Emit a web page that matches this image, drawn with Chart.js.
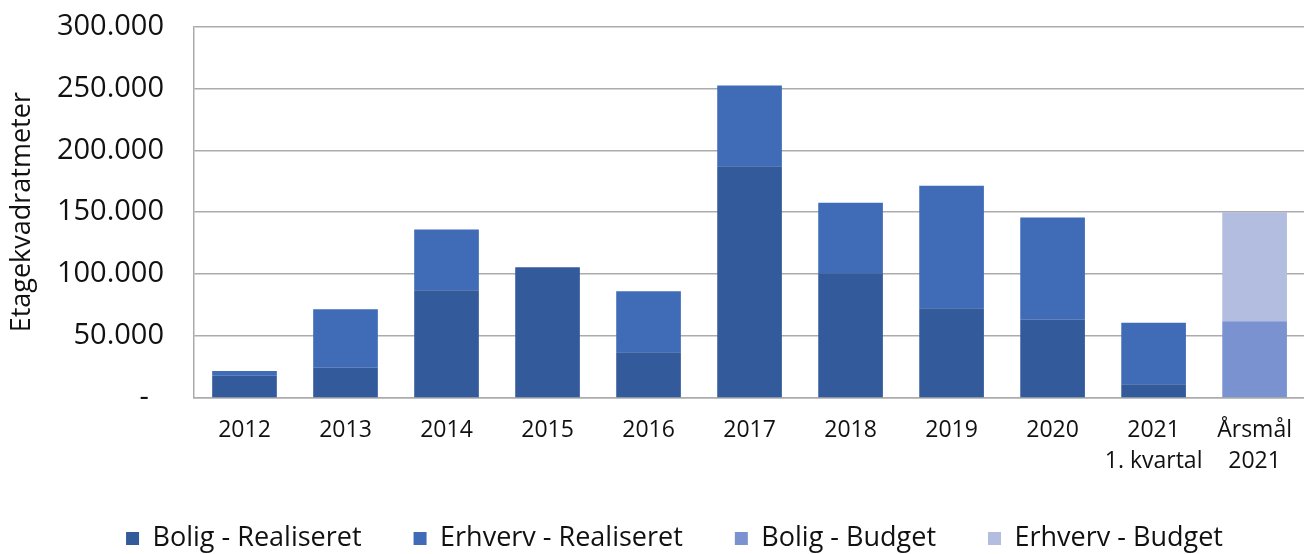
<!DOCTYPE html>
<html>
<head>
<meta charset="utf-8">
<script src="https://cdn.jsdelivr.net/npm/chart.js@4.4.1/dist/chart.umd.min.js"></script>
<style>
    html, body { margin: 0; padding: 0; background: #fff; overflow: hidden; }
    #wrap { width: 1309px; height: 583px; margin-top: -21px; }
</style>
</head>
<body>
<div id="wrap"><canvas id="chart"></canvas></div>
<script>
// categories and values (etagekvadratmeter)
const labels = ["2012", "2013", "2014", "2015", "2016", "2017", "2018", "2019", "2020", ["2021", "1. kvartal"], ["Årsmål", "2021"]];
const boligRealiseret = [18000, 24400, 87000, 105500, 37000, 187000, 100700, 72500, 63100, 11000, null];
const erhvervRealiseret = [3700, 47300, 49000, 0, 49200, 65200, 57000, 98800, 82700, 49700, null];
const boligBudget = [null, null, null, null, null, null, null, null, null, null, 62000];
const erhvervBudget = [null, null, null, null, null, null, null, null, null, null, 88000];
const yTicks = [0, 50000, 100000, 150000, 200000, 250000, 300000];

const font = "'Open Sans', sans-serif";

function fmt(v) {
    if (v === 0) return "-  ";
    return String(v).replace(/\B(?=(\d{3})+(?!\d))/g, ".");
}

const ds = (label, data, color) => ({
    label: label,
    data: data,
    backgroundColor: color,
    borderWidth: 0,
    barPercentage: 0.64,
    categoryPercentage: 1
});

// nudge the legend a bit to the right, like the original
const legendShift = {
    id: "legendShift",
    afterLayout(chart) {
        chart.legend.left += 20;
        chart.legend.right += 20;
    }
};

new Chart(document.getElementById("chart"), {
    type: "bar",
    data: {
        labels: labels,
        datasets: [
            ds("Bolig - Realiseret", boligRealiseret, "#335a9b"),
            ds("Erhverv - Realiseret", erhvervRealiseret, "#3f6bb7"),
            ds("Bolig - Budget", boligBudget, "#7a93d0"),
            ds("Erhverv - Budget", erhvervBudget, "#b2bddf")
        ]
    },
    plugins: [legendShift],
    options: {
        responsive: true,
        maintainAspectRatio: false,
        animation: false,
        layout: { padding: { top: 5, left: 0, right: 0, bottom: 0 } },
        plugins: {
            tooltip: { enabled: false },
            legend: {
                position: "bottom",
                labels: {
                    boxWidth: 13,
                    boxHeight: 13,
                    padding: 52,
                    color: "#111",
                    font: { family: font, size: 27 }
                }
            }
        },
        scales: {
            x: {
                stacked: true,
                grid: { display: false, drawTicks: false },
                border: { color: "#ababab", width: 1.5 },
                ticks: {
                    color: "#111",
                    padding: 17,
                    maxRotation: 0,
                    autoSkip: false,
                    font: { family: font, size: 23, lineHeight: 1.35 }
                },
                afterFit: (scale) => { scale.height = 75; }
            },
            y: {
                stacked: true,
                min: 0,
                max: 300000,
                afterBuildTicks: (scale) => { scale.ticks = yTicks.map(v => ({ value: v })); },
                grid: { color: "#ababab", lineWidth: 1.5, drawTicks: false },
                border: { color: "#ababab", width: 1.5 },
                ticks: {
                    color: "#111",
                    padding: 30,
                    font: { family: font, size: 29 },
                    callback: (v) => fmt(v)
                },
                title: {
                    display: true,
                    text: "Etagekvadratmeter",
                    color: "#111",
                    padding: { top: 6, bottom: 0 },
                    font: { family: font, size: 27 }
                },
                afterFit: (scale) => { scale.width = 194; }
            }
        }
    }
});
</script>
</body>
</html>
